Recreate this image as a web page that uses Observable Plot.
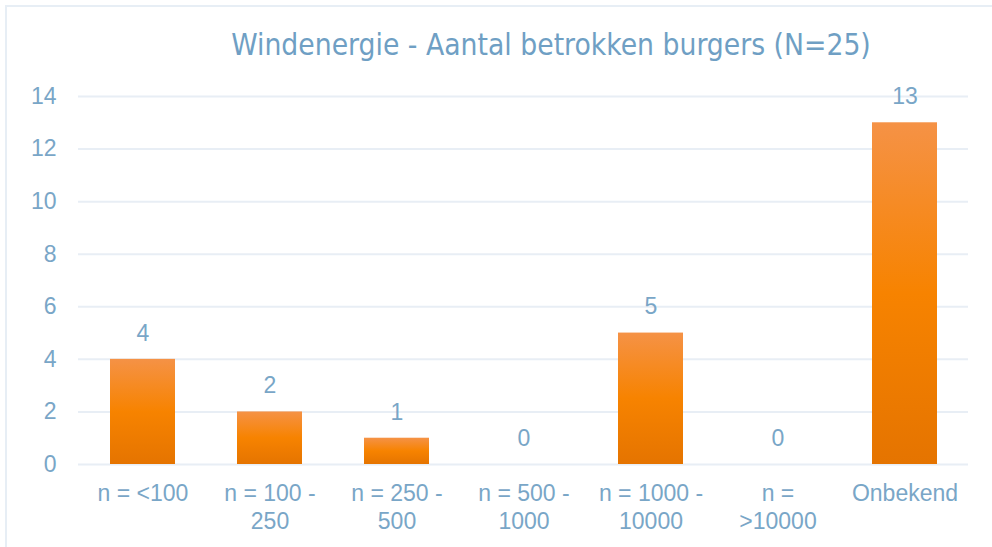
<!DOCTYPE html>
<html>
<head>
<meta charset="utf-8">
<script src="https://cdn.jsdelivr.net/npm/d3@7"></script>
<script src="https://cdn.jsdelivr.net/npm/@observablehq/plot@0.6"></script>
<style>
  html, body { margin: 0; padding: 0; background: #fff; }
  #wrap { position: relative; width: 992px; height: 547px; overflow: hidden; }
  #frame { position: absolute; left: 5px; top: 5px; width: 1200px; height: 800px; border: 2px solid #e7eef5; box-sizing: border-box; }
  #title { position: absolute; left: 0; top: 27px; width: 1102px; text-align: center; font-family: "Liberation Sans Narrow", "DejaVu Sans Condensed", "Liberation Sans", sans-serif; font-size: 29.7px; color: #6f9fc4; }
  #chart { position: absolute; left: 0; top: 0; }
  #chart svg text { font-size: 23px; }
  #chart svg g.datalabels text { font-size: 23px; }
</style>
</head>
<body>
<div id="wrap">
  <div id="frame"></div>
  <div id="chart"></div>
  <div id="title">Windenergie - Aantal betrokken burgers (N=25)</div>
</div>
<script>
const categories = ["n = <100", "n = 100 - 250", "n = 250 - 500", "n = 500 - 1000", "n = 1000 - 10000", "n = >10000", "Onbekend"];
const tickLabels = ["n = <100", "n = 100 -\n250", "n = 250 -\n500", "n = 500 -\n1000", "n = 1000 -\n10000", "n =\n>10000", "Onbekend"];
const counts = [4, 2, 1, 0, 5, 0, 13];
const yTicks = [0, 2, 4, 6, 8, 10, 12, 14];

const data = categories.map((c, i) => ({cat: c, value: counts[i]}));
const labelOf = new Map(categories.map((c, i) => [c, tickLabels[i]]));
const textColor = "#79a6c7";
const font = "'Liberation Sans', Arial, sans-serif";

const plot = Plot.plot({
  width: 992,
  height: 547,
  marginLeft: 78,
  marginRight: 24,
  marginTop: 96,
  marginBottom: 83,
  style: {fontFamily: font, fontSize: "23px", color: textColor, background: "transparent"},
  x: {domain: categories, paddingInner: 0.49, paddingOuter: 0.245, label: null},
  y: {domain: [0, 14], label: null},
  marks: [
    Plot.ruleY(yTicks, {stroke: "#e8eef5", strokeWidth: 2}),
    Plot.axisY({ticks: yTicks, tickSize: 0, tickPadding: 22, label: null}),
    Plot.axisX({tickSize: 0, tickPadding: 17, label: null, lineHeight: 1.2, tickFormat: d => labelOf.get(d)}),
    Plot.barY(data, {x: "cat", y: "value", fill: "url(#barGrad)"}),
    Plot.text(data, {x: "cat", y: "value", text: d => String(d.value), dy: -26, fill: textColor, className: "datalabels"})
  ]
});

const svg = d3.select(plot);
const defs = svg.insert("defs", ":first-child");
const g = defs.append("linearGradient").attr("id", "barGrad").attr("x1", 0).attr("y1", 0).attr("x2", 0).attr("y2", 1);
g.append("stop").attr("offset", "0%").attr("stop-color", "#f59246");
g.append("stop").attr("offset", "50%").attr("stop-color", "#f78300");
g.append("stop").attr("offset", "100%").attr("stop-color", "#e57400");

document.getElementById("chart").appendChild(plot);
</script>
</body>
</html>
